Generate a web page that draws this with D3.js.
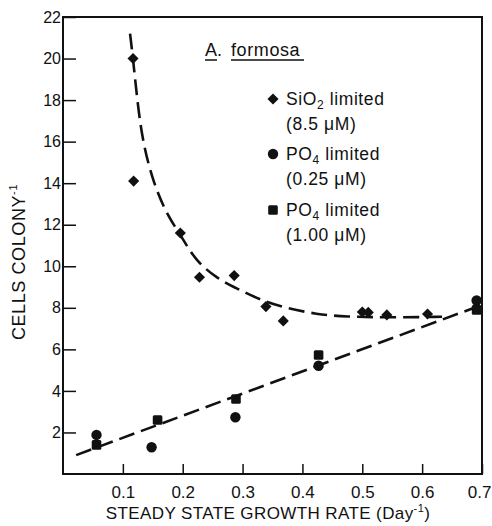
<!DOCTYPE html>
<html>
<head>
<meta charset="utf-8">
<script src="https://cdn.jsdelivr.net/npm/d3@7"></script>
<style>
  body { margin:0; background:#fff; }
  text { font-family:"Liberation Sans", Arial, sans-serif; fill:#111; }
</style>
</head>
<body>
<script>
// data
var sioX = [0.117, 0.118, 0.196, 0.228, 0.286, 0.339, 0.368, 0.500, 0.510, 0.541, 0.609];
var sioY = [20.0, 14.1, 11.6, 9.47, 9.55, 8.06, 7.37, 7.80, 7.78, 7.66, 7.70];

var po25X = [0.056, 0.148, 0.288, 0.427, 0.691];
var po25Y = [1.88, 1.29, 2.73, 5.21, 8.35];

var po100X = [0.056, 0.158, 0.289, 0.427, 0.691];
var po100Y = [1.40, 2.60, 3.61, 5.73, 7.90];

var curveX = [0.112, 0.117, 0.124, 0.133, 0.151, 0.175, 0.198, 0.2205, 0.2567, 0.290, 0.329, 0.374, 0.424, 0.47, 0.55, 0.635];
var curveY = [21.2, 20.0, 18.0, 16.0, 14.0, 12.4, 11.45, 10.3, 9.42, 8.94, 8.38, 7.98, 7.69, 7.57, 7.53, 7.57];

var lineX = [0.022, 0.685];
var lineY = [0.91, 7.98];

var xTicks = [0.1, 0.2, 0.3, 0.4, 0.5, 0.6, 0.7];
var yTicks = [2, 4, 6, 8, 10, 12, 14, 16, 18, 20, 22];

var W = 492, H = 526, m = {l:63, t:17, r:10, b:52};

var svg = d3.select("body").append("svg").attr("width", W).attr("height", H);

var x = d3.scaleLinear().domain([0, 0.7]).range([m.l, W - m.r]);
var y = d3.scaleLinear().domain([0, 22]).range([H - m.b, m.t]);

// frame
svg.append("rect").attr("x", x(0)).attr("y", y(22))
  .attr("width", x(0.7) - x(0)).attr("height", y(0) - y(22))
  .attr("fill", "none").attr("stroke", "#111").attr("stroke-width", 2);

var gx = svg.append("g").attr("transform", "translate(0," + y(0) + ")")
  .call(d3.axisBottom(x).tickValues(xTicks).tickSizeInner(-10).tickSizeOuter(0).tickPadding(12)
    .tickFormat(function(d){ return d3.format(".1f")(d); }));
gx.select(".domain").remove();
gx.selectAll("line").attr("stroke", "#111").attr("stroke-width", 1.5);
gx.selectAll("text").attr("font-size", 17).attr("fill", "#111");
// last label sits against the page edge, as in the original
gx.selectAll("text").filter(function(d){ return d === 0.7; })
  .attr("text-anchor", "end").attr("dx", 9);

var gy = svg.append("g").attr("transform", "translate(" + x(0) + ",0)")
  .call(d3.axisLeft(y).tickValues(yTicks).tickSizeInner(-13).tickSizeOuter(0).tickPadding(2));
gy.select(".domain").remove();
gy.selectAll("line").attr("stroke", "#111").attr("stroke-width", 1.5);
gy.selectAll("text").attr("font-size", 16).attr("fill", "#111");

// axis titles
var xt = svg.append("text").attr("x", 268).attr("y", 519).attr("text-anchor", "middle")
  .attr("font-size", 17).attr("letter-spacing", 0.4);
xt.append("tspan").text("STEADY STATE GROWTH RATE (Day");
xt.append("tspan").attr("font-size", 11).attr("dy", -7).text("-1");
xt.append("tspan").attr("dy", 7).text(")");

var yt = svg.append("text").attr("transform", "translate(25,262) rotate(-90)")
  .attr("text-anchor", "middle").attr("font-size", 18).attr("letter-spacing", 0.6);
yt.append("tspan").text("CELLS COLONY");
yt.append("tspan").attr("font-size", 11).attr("dy", -8).text("-1");

// fitted lines
var dash = "16,7";
svg.append("path")
  .datum(curveX.map(function(d, i){ return [d, curveY[i]]; }))
  .attr("d", d3.line().x(function(d){ return x(d[0]); }).y(function(d){ return y(d[1]); }).curve(d3.curveBasis))
  .attr("fill", "none").attr("stroke", "#111").attr("stroke-width", 2.6).attr("stroke-dasharray", dash);

svg.append("path")
  .datum(lineX.map(function(d, i){ return [d, lineY[i]]; }))
  .attr("d", d3.line().x(function(d){ return x(d[0]); }).y(function(d){ return y(d[1]); }))
  .attr("fill", "none").attr("stroke", "#111").attr("stroke-width", 2.6).attr("stroke-dasharray", dash);

// markers
var diamond = d3.symbol().type(d3.symbolSquare).size(62);
function drawDiamonds(g, px, py){
  g.selectAll(null).data(px).enter().append("path")
    .attr("d", diamond)
    .attr("transform", function(d, i){ return "translate(" + px[i] + "," + py[i] + ") rotate(45)"; })
    .attr("fill", "#111");
}
function drawCircles(g, px, py){
  g.selectAll(null).data(px).enter().append("circle")
    .attr("cx", function(d, i){ return px[i]; }).attr("cy", function(d, i){ return py[i]; })
    .attr("r", 5.2).attr("fill", "#111");
}
function drawSquares(g, px, py){
  g.selectAll(null).data(px).enter().append("rect")
    .attr("x", function(d, i){ return px[i] - 4.8; }).attr("y", function(d, i){ return py[i] - 4.8; })
    .attr("width", 9.6).attr("height", 9.6).attr("rx", 1.5).attr("fill", "#111");
}

var pts = svg.append("g");
drawDiamonds(pts, sioX.map(x), sioY.map(y));
drawCircles(pts, po25X.map(x), po25Y.map(y));
drawSquares(pts, po100X.map(x), po100Y.map(y));

// title
var tt = svg.append("g");
tt.append("text").attr("x", 205).attr("y", 56).attr("font-size", 18).text("A.");
tt.append("text").attr("x", 231).attr("y", 56).attr("font-size", 18).attr("letter-spacing", 0.6).text("formosa");
tt.append("line").attr("x1", 205).attr("x2", 217).attr("y1", 60).attr("y2", 60).attr("stroke", "#111").attr("stroke-width", 1.5);
tt.append("line").attr("x1", 231).attr("x2", 304).attr("y1", 60).attr("y2", 60).attr("stroke", "#111").attr("stroke-width", 1.5);

// legend
var lg = svg.append("g");
drawDiamonds(lg, [273], [99]);
drawCircles(lg, [273], [154]);
drawSquares(lg, [273], [210]);

function legendText(yy, main, sub, rest){
  var t = lg.append("text").attr("x", 286).attr("y", yy).attr("font-size", 17.5).attr("letter-spacing", 0.6);
  t.append("tspan").text(main);
  t.append("tspan").attr("font-size", 12).attr("dy", 4).text(sub);
  t.append("tspan").attr("dy", -4).text(rest);
}
function concText(yy, val){
  var t = lg.append("text").attr("x", 286).attr("y", yy).attr("font-size", 17.5).attr("letter-spacing", 0.6);
  t.text("(" + val + " \u03bcM)");
}
legendText(105, "SiO", "2", " limited");
concText(130, "8.5");
legendText(160, "PO", "4", "  limited");
concText(185, "0.25");
legendText(216, "PO", "4", "  limited");
concText(241, "1.00");
</script>
</body>
</html>
